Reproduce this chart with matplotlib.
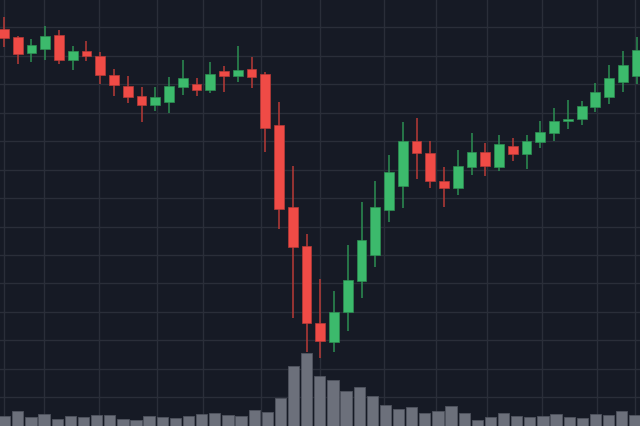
import numpy as np
import matplotlib.pyplot as plt

# OHLC per candle (price units)
opens = [189.5, 186.5, 180.9, 182.4, 187.3, 178.7, 181.6, 180.1, 173.4, 169.5,
         165.9, 162.7, 163.9, 169.2, 170.1, 167.9, 174.8, 172.9, 175.4, 173.6,
         155.7, 126.8, 113.1, 86.1, 79.3, 90.1, 100.8, 110.0, 125.8, 134.4,
         150.1, 145.8, 136.1, 133.7, 141.1, 146.3, 141.1, 148.4, 145.6, 149.7,
         152.8, 157.1, 157.8, 162.1, 165.7, 170.7, 173.0]
closes = [186.2, 180.7, 183.8, 187.1, 178.6, 181.6, 179.9, 173.3, 169.9, 165.4,
          162.7, 165.7, 169.3, 172.1, 168.0, 173.6, 172.9, 175.1, 172.5, 154.6,
          126.1, 112.9, 86.2, 79.7, 90.1, 101.3, 115.2, 126.8, 139.1, 150.2,
          145.8, 136.1, 133.6, 141.3, 146.3, 141.2, 149.1, 145.5, 150.0, 153.4,
          157.1, 157.9, 162.3, 167.4, 172.3, 176.9, 182.2]
highs = [193.6, 187.1, 185.9, 190.6, 189.1, 183.6, 185.3, 181.3, 175.4, 172.8,
         169.0, 169.0, 172.5, 178.6, 172.2, 178.0, 176.6, 183.4, 179.5, 174.4,
         163.9, 141.4, 117.4, 101.6, 97.5, 113.6, 128.5, 135.9, 145.2, 156.7,
         158.2, 150.2, 141.1, 146.9, 152.8, 149.4, 152.2, 151.1, 152.3, 157.0,
         161.6, 164.6, 164.1, 170.4, 176.8, 181.6, 186.5]
lows = [183.2, 177.2, 177.7, 178.7, 177.2, 175.1, 178.1, 170.1, 165.8, 163.4,
        156.7, 160.7, 159.9, 166.3, 165.8, 167.0, 167.4, 170.7, 168.6, 146.3,
        119.2, 87.8, 75.8, 73.7, 75.8, 83.4, 94.8, 105.7, 121.7, 126.4,
        136.7, 133.5, 127.0, 131.2, 138.2, 137.7, 139.4, 143.2, 140.2, 147.6,
        150.0, 154.3, 155.8, 160.2, 163.0, 167.2, 170.1]

volumes = [10.3, 15.0, 9.3, 11.7, 7.3, 10.0, 9.3, 11.0, 10.7, 7.3,
           6.0, 9.7, 9.3, 8.0, 10.0, 11.7, 13.3, 11.0, 9.7, 15.7,
           14.0, 27.7, 60.3, 73.0, 50.3, 45.7, 34.7, 38.7, 29.7, 20.7,
           16.7, 19.3, 13.0, 14.7, 19.7, 12.7, 6.0, 8.7, 12.7, 9.7,
           9.0, 10.3, 11.7, 8.7, 7.7, 11.7, 11.3, 14.7, 10.7]

grid_x = [0, 2.9, 6.9, 11.1, 14.5, 18.7, 23.0, 27.6, 31.4, 35.1, 39.1, 43.1, 45.9]
grid_y = np.arange(60, 200, 10)

BG = '#161a25'
GRID = '#2a2e39'
UP, UP_DARK = '#3cba6c', '#2c8f52'
DOWN, DOWN_DARK = '#ef4b46', '#b83a37'
VOL, VOL_EDGE = '#6c707b', '#50545f'

fig = plt.figure(figsize=(6.4, 4.27), dpi=100)
fig.patch.set_facecolor(BG)

# price panel (bottom layer, carries the grid)
ax = fig.add_axes([0, 0, 1, 1])
ax.set_facecolor(BG)
for gx in grid_x:
    ax.axvline(gx, color=GRID, linewidth=1.0, zorder=0)
for gy in grid_y:
    ax.axhline(gy, color=GRID, linewidth=1.0, zorder=0)

o = np.array(opens)
c = np.array(closes)
x = np.arange(len(o))
up = c >= o
colors = np.where(up, UP, DOWN)
wick_colors = np.where(up, UP_DARK, DOWN_DARK)
body_h = np.maximum(np.abs(c - o), 0.6)

ax.vlines(x, lows, highs, colors=wick_colors, linewidth=1.1, zorder=2)
ax.bar(x, body_h, bottom=np.minimum(o, c), width=0.72, color=colors,
       edgecolor=wick_colors, linewidth=0.5, zorder=3)
ax.set_xlim(-0.29, 46.25)
ax.set_ylim(49.9, 200)
ax.axis('off')

# volume panel (transparent overlay)
ax_v = fig.add_axes([0, 0, 1, 1])
ax_v.patch.set_alpha(0)
xv = np.arange(len(volumes))
ax_v.bar(xv, volumes, width=0.86, color=VOL, edgecolor=VOL_EDGE, linewidth=0.6)
ax_v.set_xlim(-0.36, 48.39)
ax_v.set_ylim(0, max(volumes) * 5.85)
ax_v.axis('off')

fig.savefig('out.png', dpi=100, facecolor=BG)
